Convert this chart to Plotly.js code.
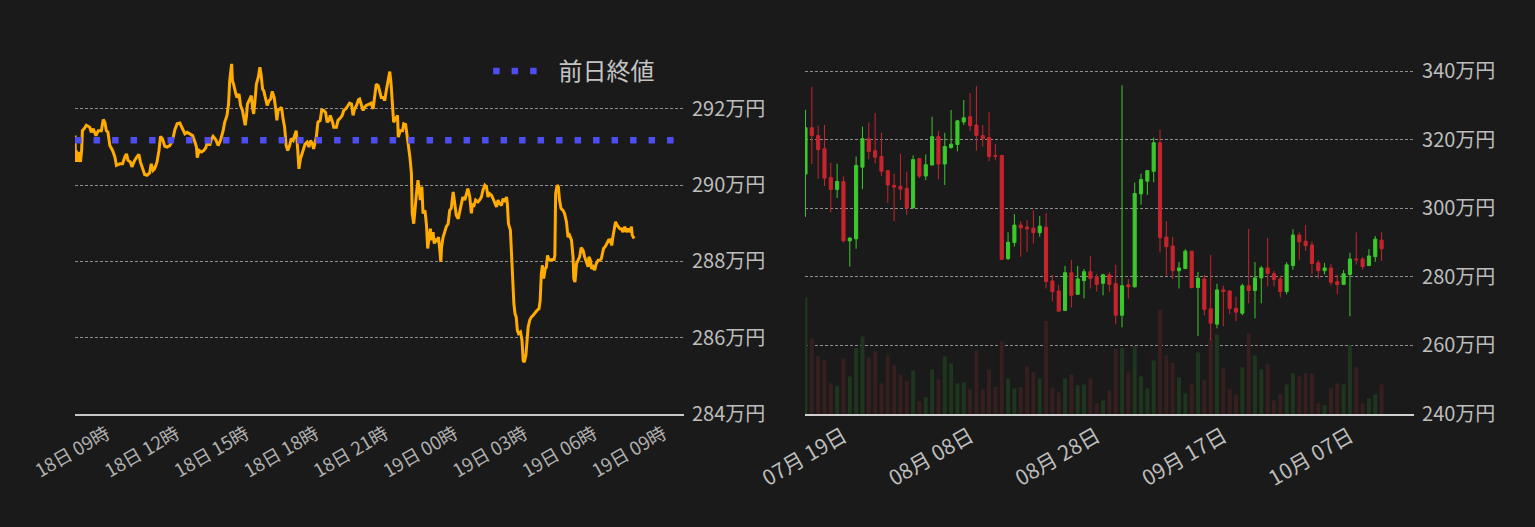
<!DOCTYPE html>
<html>
<head>
<meta charset="utf-8">
<script src="https://cdn.plot.ly/plotly-3.0.1.min.js"></script>
<style>
  html, body { margin: 0; padding: 0; background: #1a1a1a; }
  #chart { width: 1535px; height: 527px; }
</style>
</head>
<body>
<div id="chart"></div>
<script>
// intraday: minutes since 18日 00:00, price in 万円
const intradayMinutes = [458,459,461,465,468,472,475,477,483,487,496,500,505,512,518,526,531,535,539,543,548,555,561,565,574,581,587,591,595,601,605,612,618,623,627,632,638,644,651,655,660,664,670,675,679,684,690,696,703,710,716,722,729,736,742,748,755,762,768,772,774,779,785,791,796,802,806,811,815,822,828,834,841,845,851,855,858,861,863,865,868,874,877,882,886,891,894,898,901,904,908,914,917,920,923,927,932,936,939,943,946,951,955,960,964,968,973,977,980,983,987,992,996,1000,1004,1008,1013,1017,1022,1027,1030,1034,1037,1041,1046,1049,1053,1058,1063,1067,1072,1075,1079,1082,1086,1092,1096,1101,1106,1110,1115,1118,1124,1127,1134,1138,1144,1149,1153,1158,1164,1168,1173,1177,1181,1186,1191,1194,1199,1203,1207,1211,1220,1224,1229,1233,1237,1242,1246,1250,1255,1259,1263,1268,1272,1275,1279,1282,1287,1292,1294,1299,1305,1308,1313,1317,1320,1324,
  1328,1330,1334,1337,1341,1345,1348,1351,1355,1358,1363,1367,1370,1374,1377,1380,1384,1387,1391,1394,1398,1401,1404,1406,1410,1414,1418,1423,1427,1431,1436,1440,1444,1449,1453,1457,1461,1466,1470,1474,1479,1483,1486,1489,1494,1500,1505,1509,1513,1518,1522,1526,1530,1535,1539,1543,1548,1552,1556,1561,1565,1569,1574,1576,1579,1584,1587,1589,1593,1596,1599,1602,1605,1610,1614,1617,1620,1624,1627,1630,1634,1638,1643,1648,1653,1658,1661,1664,1667,1670,1674,1677,1680,1683,1687,1692,1697,1699,1701,1705,1708,1711,1715,1720,1724,1729,1733,1737,1742,1746,1748,1751,1755,1759,1763,1767,1772,1776,1780,1785,1787,1791,1794,1798,1802,1806,1811,1815,1819,1822,1825,1830,1834,1838,1842,1846,1849,1854,1856,1860,1863,1867,1871,1875,1880,1884,1888,1893,1897,1899,1904];
const intradayPrice = [291.30,290.61,290.91,290.61,290.87,290.61,290.91,291.43,291.50,291.57,291.52,291.39,291.48,291.30,291.43,291.43,291.72,291.65,291.43,291.39,291.04,290.91,290.74,290.52,290.56,290.56,290.75,290.82,290.65,290.61,290.48,290.65,290.74,290.81,290.61,290.43,290.28,290.26,290.32,290.56,290.39,290.43,290.61,290.91,291.28,291.22,291.02,291.00,291.04,291.17,291.45,291.61,291.63,291.48,291.35,291.39,291.35,291.30,291.13,291.00,290.72,290.91,290.87,290.91,290.98,291.19,291.04,291.22,291.28,291.19,291.04,291.17,291.43,291.65,291.83,292.13,292.74,293.16,293.18,292.74,292.65,292.39,292.30,292.39,292.09,291.96,291.78,291.57,291.78,292.13,292.22,292.35,292.04,291.87,292.17,292.65,292.83,293.09,292.91,292.52,292.48,292.30,292.09,292.22,292.26,292.46,292.30,292.00,291.70,291.96,292.00,292.04,291.74,291.52,291.04,290.91,291.04,291.22,291.17,291.35,291.43,290.91,290.43,290.69,290.82,290.95,291.08,291.13,291.00,291.17,291.08,290.95,291.13,291.26,291.65,291.70,291.97,291.96,291.91,291.65,291.70,291.83,291.65,291.52,291.52,291.70,291.76,291.83,291.96,292.00,292.09,292.15,292.13,291.83,292.00,292.09,292.24,292.26,292.09,291.96,292.04,292.09,292.13,292.15,292.00,292.39,292.65,292.61,292.44,292.30,292.30,292.22,292.48,292.83,292.98,292.70,292.13,291.65,291.74,291.83,291.26,291.43,291.43,291.61,291.59,291.30,291.04,290.74,
  290.31,289.26,288.99,289.43,289.78,290.13,289.78,289.61,289.96,289.26,289.34,288.95,288.34,288.64,288.86,288.56,288.77,288.47,288.60,288.51,288.64,288.34,287.99,288.38,288.64,288.77,288.91,288.99,289.34,289.39,289.82,289.52,289.21,289.12,289.34,289.52,289.69,289.61,289.78,289.91,289.69,289.26,289.52,289.43,289.61,289.56,289.62,289.69,289.87,290.00,289.96,289.69,289.78,289.74,289.65,289.56,289.43,289.61,289.52,289.47,289.65,289.56,289.69,289.52,288.99,288.82,288.03,287.59,286.89,286.63,286.54,286.19,286.11,286.15,285.93,285.40,285.36,285.54,285.93,286.28,286.46,286.54,286.59,286.67,286.72,286.76,286.98,287.68,287.90,287.55,287.81,287.85,288.16,288.07,288.03,288.05,288.05,288.16,289.78,290.00,289.96,289.61,289.39,289.34,289.26,289.04,288.64,288.69,288.56,288.12,287.55,287.46,287.94,288.03,288.12,288.36,288.29,288.12,287.99,287.86,288.12,288.03,287.81,287.86,287.77,287.94,288.03,288.03,288.07,288.25,288.34,288.40,288.47,288.56,288.57,288.42,288.64,288.95,289.04,288.95,288.91,288.86,288.86,288.77,288.91,288.77,288.86,288.77,288.91,288.69,288.60];
const prevClose = 291.18;
const intradayTicks = ['2023-10-18 09:00','2023-10-18 12:00','2023-10-18 15:00','2023-10-18 18:00','2023-10-18 21:00','2023-10-19 00:00','2023-10-19 03:00','2023-10-19 06:00','2023-10-19 09:00'];
const intradayRange = ['2023-10-18 07:38','2023-10-19 09:53'];
const priceTicksLeft = [284, 286, 288, 290, 292];

// daily candles (万円)
const candleDates = [
  '2023-07-13','2023-07-14','2023-07-15','2023-07-16','2023-07-17','2023-07-18','2023-07-19','2023-07-20','2023-07-21','2023-07-22',
  '2023-07-23','2023-07-24','2023-07-25','2023-07-26','2023-07-27','2023-07-28','2023-07-29','2023-07-30','2023-07-31','2023-08-01',
  '2023-08-02','2023-08-03','2023-08-04','2023-08-05','2023-08-06','2023-08-07','2023-08-08','2023-08-09','2023-08-10','2023-08-11',
  '2023-08-12','2023-08-13','2023-08-14','2023-08-15','2023-08-16','2023-08-17','2023-08-18','2023-08-19','2023-08-20','2023-08-21',
  '2023-08-22','2023-08-23','2023-08-24','2023-08-25','2023-08-26','2023-08-27','2023-08-28','2023-08-29','2023-08-30','2023-08-31',
  '2023-09-01','2023-09-02','2023-09-03','2023-09-04','2023-09-05','2023-09-06','2023-09-07','2023-09-08','2023-09-09','2023-09-10',
  '2023-09-11','2023-09-12','2023-09-13','2023-09-14','2023-09-15','2023-09-16','2023-09-17','2023-09-18','2023-09-19','2023-09-20',
  '2023-09-21','2023-09-22','2023-09-23','2023-09-24','2023-09-25','2023-09-26','2023-09-27','2023-09-28','2023-09-29','2023-09-30',
  '2023-10-01','2023-10-02','2023-10-03','2023-10-04','2023-10-05','2023-10-06','2023-10-07','2023-10-08','2023-10-09','2023-10-10',
  '2023-10-11','2023-10-12'];
const openP = [310.0,323.5,321.2,317.4,309.0,305.5,307.8,290.5,291.1,312.0,320.3,316.8,315.1,311.0,306.7,306.4,305.8,300.1,314.5,309.4,312.6,320.9,312.9,317.7,318.6,325.2,326.7,324.3,321.2,320.6,315.4,315.4,285.3,290.0,295.1,294.5,294.2,292.9,294.5,278.8,275.9,270.2,281.2,274.9,278.9,281.5,280.0,278.1,280.6,278.0,268.8,277.7,277.1,304.2,307.9,310.8,319.1,291.6,289.0,281.8,282.4,287.5,276.9,279.4,270.7,266.2,276.2,275.9,270.8,269.4,277.4,276.0,279.7,282.6,280.9,279.4,275.7,283.3,292.2,290.4,289.3,284.1,281.8,282.6,278.6,277.8,280.7,285.2,285.2,283.3,285.9,290.7];
const highP = [328.7,335.4,324.1,324.3,313.3,313.0,309.3,291.6,315.1,323.8,325.0,327.8,322.0,311.0,310.1,315.9,310.7,315.4,314.7,315.7,326.7,322.6,322.0,328.7,325.8,331.6,333.6,335.7,324.3,328.1,318.8,315.4,293.0,298.3,296.2,296.5,299.4,297.7,298.6,280.6,277.7,283.2,284.9,283.2,282.3,286.1,280.9,280.9,281.4,283.5,335.9,279.4,307.5,310.1,311.0,320.6,322.9,296.2,291.6,284.3,288.1,287.5,281.4,280.6,286.4,278.0,277.4,275.9,274.2,278.0,294.0,284.3,283.2,291.4,281.7,280.3,284.3,293.9,293.0,295.1,290.4,284.9,284.1,283.8,280.6,282.0,287.0,293.0,285.8,288.1,291.9,293.0];
const lowP = [297.5,312.9,308.5,306.5,298.8,303.0,290.0,283.0,288.2,305.6,314.3,313.1,309.4,301.5,296.2,302.4,298.1,300.1,308.8,308.2,312.6,308.5,306.8,317.4,316.6,324.3,322.6,316.8,318.0,313.7,314.0,284.9,284.9,288.8,285.9,287.3,289.7,291.7,276.6,272.8,270.0,270.2,271.1,274.9,273.7,276.6,275.7,274.6,275.7,266.2,265.3,273.7,276.9,301.0,303.9,307.6,287.1,280.4,279.4,276.6,282.4,276.6,262.7,268.8,261.5,265.0,265.6,269.1,267.1,268.8,272.3,267.9,272.3,277.2,277.2,274.0,274.9,282.1,285.0,287.6,280.7,279.5,280.7,277.5,274.9,277.8,268.5,283.6,282.1,283.3,284.4,284.7];
const closeP = [323.5,321.2,317.1,308.8,305.5,307.8,290.5,291.3,312.5,320.3,316.6,314.9,310.8,306.8,306.2,305.6,300.1,314.2,309.4,312.7,320.9,312.9,318.0,318.7,325.5,326.4,324.1,321.2,320.3,315.1,315.2,285.1,290.1,295.1,294.3,294.0,292.9,294.8,278.6,275.7,270.0,281.2,274.6,279.4,281.5,279.5,277.8,280.6,277.8,268.8,277.4,277.1,304.3,308.4,311.0,319.1,291.4,288.8,281.8,282.6,287.5,276.9,279.6,270.5,266.5,276.2,275.7,270.8,269.7,277.4,276.0,279.7,282.6,281.0,279.2,275.7,283.5,292.2,290.2,289.1,283.9,281.8,282.6,278.4,277.8,280.9,285.2,285.0,283.0,286.1,291.0,288.2];
const volume = [350,227,173,161,92,84,167,113,198,233,170,188,92,176,146,119,98,131,38,50,134,104,173,152,92,95,74,191,74,134,81,218,107,77,81,143,125,107,279,77,65,107,119,86,89,107,32,41,71,195,198,125,203,113,77,161,314,176,153,110,62,89,185,101,227,239,137,74,59,140,242,176,134,149,41,59,89,122,113,122,122,32,26,77,92,89,206,140,32,47,59,89];
const dailyTicks = ['2023-07-19','2023-08-08','2023-08-28','2023-09-17','2023-10-07'];
const dailyRange = ['2023-07-12 22:00','2023-10-17 03:00'];
const priceTicksRight = [240, 260, 280, 300, 320, 340];

const UP = '#3bc92b', DOWN = '#c8242e';
const UP_VOL = '#1e361e', DOWN_VOL = '#381f1f';
const GRID = '#8e8e8e';
const TEXT = '#bdbdbd';

const pad = n => String(n).padStart(2, '0');
const intradayTimes = intradayMinutes.map(m => {
  const day = 18 + Math.floor(m / 1440);
  const rest = m % 1440;
  return `2023-10-${day} ${pad(Math.floor(rest / 60))}:${pad(rest % 60)}`;
});
const volColors = openP.map((o, i) => closeP[i] >= o ? UP_VOL : DOWN_VOL);
const yen = v => v + '万円';

const traces = [
  {
    type: 'scatter', mode: 'lines', x: intradayTimes, y: intradayPrice,
    line: {color: '#ffab00', width: 3}, showlegend: false, hoverinfo: 'skip'
  },
  {
    type: 'scatter', mode: 'lines', name: '\u00a0前日終値',
    x: [intradayTimes[0], intradayRange[1]], y: [prevClose, prevClose],
    line: {color: '#4d4df2', width: 6.5, dash: '6.5px,12px'}, hoverinfo: 'skip'
  },
  {
    type: 'bar', x: candleDates, y: volume, xaxis: 'x2', yaxis: 'y2',
    marker: {color: volColors, line: {width: 0}}, width: 0.62 * 86400000,
    showlegend: false, hoverinfo: 'skip'
  },
  {
    type: 'candlestick', x: candleDates, open: openP, high: highP, low: lowP, close: closeP,
    xaxis: 'x2', yaxis: 'y3', whiskerwidth: 0,
    increasing: {line: {color: UP, width: 1}, fillcolor: UP},
    decreasing: {line: {color: DOWN, width: 1}, fillcolor: DOWN},
    showlegend: false, hoverinfo: 'skip'
  }
];

const priceAxis = {
  side: 'right', showgrid: true, gridcolor: GRID, gridwidth: 1, griddash: '3px,2px',
  zeroline: false, ticks: '', tickfont: {size: 20, color: TEXT}, ticklabelstandoff: 7,
  fixedrange: true
};

const layout = {
  width: 1535, height: 527,
  paper_bgcolor: '#1a1a1a', plot_bgcolor: '#1a1a1a',
  margin: {l: 0, r: 0, t: 54, b: 113},
  font: {family: '"Noto Sans CJK JP", "Noto Sans", sans-serif', color: TEXT},
  showlegend: true,
  legend: {
    x: 0.318, y: 1.014, xanchor: 'left', yanchor: 'top',
    bgcolor: 'rgba(0,0,0,0)', font: {size: 24, color: '#c4c4c4'}, itemwidth: 55
  },
  xaxis: {
    domain: [0.0489, 0.4456], type: 'date', range: intradayRange,
    tickvals: intradayTicks, tickformat: '%d日 %H時', tickangle: -30,
    tickfont: {size: 18.5, color: '#b0b0b0'}, showgrid: false, zeroline: false,
    showline: true, linecolor: '#c8c8c8', linewidth: 2, ticks: '', fixedrange: true
  },
  yaxis: Object.assign({}, priceAxis, {
    anchor: 'x', range: [284, 293.44], tickvals: priceTicksLeft, ticktext: priceTicksLeft.map(yen)
  }),
  xaxis2: {
    domain: [0.5244, 0.9212], anchor: 'y2', type: 'date', range: dailyRange,
    tickvals: dailyTicks, tickformat: '%m月 %d日', tickangle: -30,
    tickfont: {size: 21, color: TEXT}, showgrid: false, zeroline: false,
    showline: true, linecolor: '#d0d0d0', linewidth: 2, ticks: '',
    rangeslider: {visible: false}, fixedrange: true
  },
  yaxis2: {anchor: 'x2', range: [0, 1080], visible: false, fixedrange: true},
  yaxis3: Object.assign({}, priceAxis, {
    anchor: 'x2', overlaying: 'y2', range: [240, 345], tickvals: priceTicksRight, ticktext: priceTicksRight.map(yen)
  })
};

Plotly.newPlot('chart', traces, layout, {displayModeBar: false, staticPlot: true});
</script>
</body>
</html>
